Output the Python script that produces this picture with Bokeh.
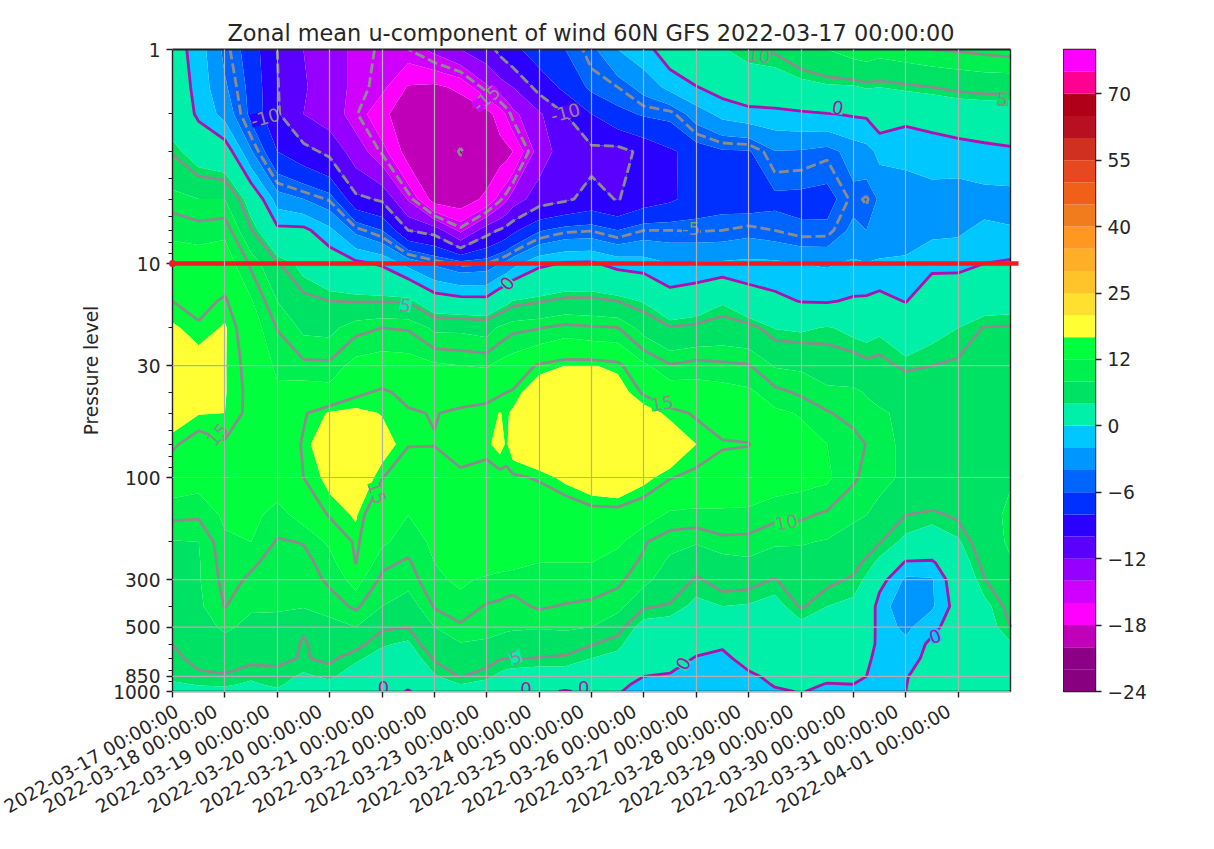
import math
from datetime import datetime, timedelta
import numpy as np
from bokeh.embed import file_html
from bokeh.layouts import row
from bokeh.models import ColumnDataSource, FixedTicker, LinearAxis, Range1d
from bokeh.plotting import figure
from bokeh.resources import INLINE
from bokeh.core.properties import value

TITLE = "Zonal mean u-component of wind 60N GFS 2022-03-17 00:00:00"
pressure_levels = [1, 1.5, 2, 3, 5, 7, 10, 15, 20, 30, 40, 50, 70, 100, 150, 200, 250, 300, 400, 500, 600, 700, 850, 925, 1000]
days = [0, .5, 1, 1.5, 2, 2.5, 3, 3.5, 4, 4.5, 5, 5.5, 6, 6.25, 6.375, 6.5, 7, 7.5, 8, 8.5, 9, 9.5, 10, 10.5, 11, 11.5, 12, 12.5, 13, 13.25, 13.5, 14, 14.5, 15, 15.5, 16]

d00_0 = [1.2,1.8,2.5,4.8,9,11.5,13.3,15,16.3,18,18,17,15.3,13.5,10.5,7.8,7.4,7,6.5,5.7,5,4.6,4.3,3.8,3.5]
d00_5 = [-1,-0.8,-0.5,2.5,8,11,13.5,14.3,15.3,17,17,16.1,14,13,10.3,8,7.8,7.8,7.5,6.8,6,5.5,4.7,4.1,3.5]
d01_0 = [-4.5,-3.7,-2.7,1.5,8,11.5,13.5,15.3,16.2,16.1,16.1,16,14.8,13.5,12.5,11.5,11,10.7,10.1,8.5,7,6,4.8,4.2,3.5]
d01_5 = [-7,-6.6,-6.5,-3.8,2.5,5.2,9.6,12.3,13.5,14.3,14.5,14.5,14,13.5,12.8,12,10.3,9.7,8.3,7.3,6.3,5.4,4.2,3.8,3.3]
d02_0 = [-10,-9.9,-9.8,-8,-3,0.6,5.2,8,9.9,11.5,12.5,13,13.3,13.5,11,9.8,9.3,9,8.2,7.4,6.3,5.3,4.6,4.3,3.7]
d02_5 = [-12,-11.8,-12,-9.3,-4,0.6,3.3,5.6,7.5,10.6,13.3,14.8,15.2,15,13,10.1,9.3,9,8.2,5.2,4.8,4.9,3.7,3.2,3]
d03_0 = [-13,-13,-13,-10.5,-5.2,-1.5,1.8,5,7.3,10.5,13,16.2,18,16.5,15.2,12.5,11,10.4,9,7,6,5.3,4.3,3.5,3]
d03_5 = [-14.5,-14.5,-14.8,-13,-9.5,-4.5,0.5,4.9,9.3,13,14.6,16.5,18.3,18,16.2,15.4,15.1,13,10.4,8,5.5,4.3,3,2.5,2.2]
d04_0 = [-15.2,-15.5,-17.6,-15.2,-10.3,-6,-0.3,4.9,10,13.5,15.3,15.9,17,15.1,12.5,12.5,10.5,9.5,8,5.2,4.2,3.3,2.5,2.2,2]
d04_5 = [-15,-18.2,-19,-19,-14.2,-10,-2.7,4.8,9.8,13.3,14.5,15.2,15.1,13.5,12,10.8,9.7,9,6.5,5,3.7,2.8,2,1,-0.3]
d05_0 = [-13.5,-18.5,-19.3,-19.5,-19,-10.8,-4.3,1.5,7.5,12.5,13.5,14.9,15.1,13,12.2,12.5,12,11.5,10.2,8,6.5,5.2,3.8,3,2.5]
d05_5 = [-12,-17.5,-19.6,-20.05,-19.3,-14.5,-5.3,0.9,7.5,12,14,15.4,15.4,14.8,13,13,13,12.5,11,9.7,7.8,6.3,5.1,4,3]
d06_0 = [-10.8,-14.3,-18.8,-19.5,-17.5,-10.8,-5,0.8,7,11.8,14.4,15.6,15.7,14,13,13.3,13.6,11.5,9.8,9,7.5,5.7,4.3,3.5,3]
d06_25 = [-9.5,-13,-17,-19,-15.3,-9.8,-4,2.5,8.5,12.8,14.8,16.05,16.6,14.4,13,13.2,13.3,10.9,9.7,8.6,7.1,5.1,3.6,2.7,2.2]
d06_375 = [-9,-12.5,-15.8,-18.7,-14.3,-9.2,-3.5,3.2,9,13.2,15,15.8,15.8,14.5,13,13.1,13.1,10.8,9.5,8.4,6.9,5,3.3,2.3,1.9]
d06_5 = [-8.5,-12,-14.5,-18,-13,-8.5,-2.7,4.1,9.5,13.5,15.2,16.3,17,14.7,13,13,12.9,10.7,9.4,8.3,6.8,5.1,3,2,1.5]
d07_0 = [-7,-9.3,-12.3,-13,-11,-6.2,-0.5,4.8,9.9,15.3,17.5,19,18.5,15.2,13,12.5,12,11,10.3,8.2,6.2,4.9,2.8,1,0.6]
d07_5 = [-6,-7.5,-10,-11,-10.3,-5.3,0.2,5.6,10.8,16,19,19.5,19.5,16.5,13,12.3,12,11.5,9.8,8.5,6,4.7,3,1,-0.2]
d08_0 = [-4.5,-5.6,-8,-10.5,-9.4,-5.1,0.3,5.6,10.3,16.1,19,19.5,19.7,17.5,14,12.5,12,11,9.6,8,5.1,4,2.2,1,0.6]
d08_5 = [-2,-5,-6.5,-10.7,-10.1,-6,-0.8,5,10.1,15.6,17,19.3,19.5,18,14,12.5,10.8,10.4,9,5.6,4.4,3.5,2,0.7,0.2]
d09_0 = [-0.8,-3.3,-5.8,-9.5,-9,-5,-1.1,3.8,7,12.5,14.7,17,19,16.6,13.2,10.2,9.7,8.9,5.2,3.2,2.5,1.8,0,-0.7,-1]
d09_5 = [1.3,-1.4,-5.5,-8.3,-8.3,-5,-2,1.4,5.2,10.2,13.7,15.5,18,15.1,11.5,8.7,7.5,6.3,4.8,3,2,1.2,-0.3,-1,-1.2]
d10_0 = [2.6,-0.1,-3,-7.2,-7.3,-5.1,-1.8,2.1,5.6,10.9,13.2,14.8,16,14.5,11.3,8.3,5.5,4.8,3.5,2.6,1,-0.2,-1,-1.2,-1.2]
d10_5 = [3.8,0.9,-1.4,-6.3,-6.8,-5,-1.7,3.7,6.2,10.5,13,14,15.2,13.8,11.5,9.4,6.9,5.7,4,2.8,0.3,-0.5,-1.2,-1.3,-1.4]
d11_0 = [5,1.8,-0.8,-6.2,-7,-4.6,-1.5,1.5,5.8,10.2,12.5,13.5,15.1,13.2,11.6,9.2,7.5,5.6,3.8,2.7,1.8,0.8,-0.4,-1,-1.2]
d11_5 = [5.3,2.2,-0.7,-4.1,-6.5,-5,-1.6,0.7,3.9,7.8,10.7,12.5,13.3,13.3,10.5,8.5,6,4.9,3.2,2,1.2,0.5,0.5,0.2,-0.3]
d12_0 = [6.8,3,-0.4,-4.2,-6.6,-5.6,-2,-0.1,3.6,7.6,9.6,11.8,13,12.8,10.4,8.2,7,6.2,5.2,3.3,2.5,1.7,0.7,0.3,0.1]
d12_5 = [8,3.6,-0.1,-4.7,-6.8,-5.5,-2.2,-0.2,4.2,6.3,8.7,10.2,12,12.4,9.6,7.8,6.8,5.4,4,3.3,2.7,2,0.3,-0.05,-0.5]
d13_0 = [9.2,3.7,0.2,-3.2,-4.6,-3.5,-1.7,0.3,3.4,6.1,8.5,9.2,11,10.3,8.5,6.6,5.5,4.8,3.5,2.9,2.2,1.4,0.5,0,-0.5]
d13_25 = [9.5,4.2,0.3,-2.7,-5.2,-4,-1.9,0.4,3.2,5.5,7.8,8.8,9.9,9.5,8,5.8,4.7,3.7,2.6,1.8,1.3,0.5,0,-0.4,-0.7]
d13_5 = [9,4,1.3,-1.5,-3.7,-3.4,-1.7,0.8,3.6,5.7,7.3,8.3,8.6,8.8,7,5.1,3.5,1,-1.3,-0.9,-0.7,-0.8,-1,-1,-1.1]
d14_0 = [9.5,4.5,0.6,-1.5,-3,-3,-1.6,-0.1,2.4,4.6,6.6,7.5,7.6,7.5,5,3.5,-0.3,-2.4,-3,-2.5,-1.5,-1,-0.2,-0.1,0]
d14_5 = [10,5,0.8,-1,-2.9,-2.5,-0.5,1.7,3.4,5,6.6,7,7.1,7.2,4.6,2.7,-0.4,-2.2,-2.3,-0.6,0.5,0.8,1.7,2,2.2]
d15_0 = [10.2,5.6,1.5,-1,-3,-2.3,-0.6,2.2,4,5.3,6.2,6.7,6.7,6.8,5.3,3.7,2.6,1.9,1.1,1.3,1.8,2.2,2.7,2.8,3]
d15_5 = [10.5,6,1.6,-0.6,-2.8,-1.5,0,2.8,5.1,6.3,6.8,7,7,7.3,7,6.3,5.6,4.9,3.4,3,3,3.2,3.3,3.3,3.3]
d16_0 = [10.8,6,1.5,-0.3,-2.8,-1.8,0.3,3,5.2,6.5,7,7.3,7.3,7.8,8.5,8.5,7.7,7.3,5.6,5,3.8,3.5,3,1.2,-0.1]

columns = [d00_0,d00_5,d01_0,d01_5,d02_0,d02_5,d03_0,d03_5,d04_0,d04_5,d05_0,d05_5,d06_0,d06_25,d06_375,d06_5,d07_0,d07_5,d08_0,d08_5,d09_0,d09_5,d10_0,d10_5,d11_0,d11_5,d12_0,d12_5,d13_0,d13_25,d13_5,d14_0,d14_5,d15_0,d15_5,d16_0]

levels = [-24,-22,-20,-18,-16,-14,-12,-10,-8,-6,-4,-2,0,4,8,12,16,20,25,30,35,40,45,50,55,60,65,70,75,80]
level_colors = ["#88007f","#8c0088","#c000b8","#ff00ff","#d000ff","#9600ff","#5a00ff","#2a00ff","#0030ff","#0064ff","#0096ff","#00c8ff",
                "#00f0aa","#00e264","#00f050","#00ff3c","#ffff33","#ffdf30","#ffc42a","#ffae28","#ff9820","#f07c1e","#f06018","#e84820",
                "#d03020","#b81020","#b00018","#ff0090","#ff00ff"]
dashed_levels = [-20, -15, -10, -5]
zero_level = [0]
solid_levels = [5, 10, 15]
colorbar_tick_values = [-24,-18,-12,-6,0,12,25,40,55,70]
y_tick_values = [1, 10, 30, 100, 300, 500, 850, 1000]
y_minor_values = [2,3,4,5,6,7,8,9,20,40,50,60,70,80,90,200,400,600,700,800,900]
highlight_pressure = 10
tick_days = list(range(16))

label_text = ["-10","-15","-10","-5","5","10","0","0","5","15","15","15","10","5","0","0","0","0","0"]
label_day  = [1.77,5.99,7.5,9.9,15.85,11.2,12.7,6.39,4.45,0.86,3.91,9.35,11.72,6.55,9.75,14.56,4.03,6.75,7.85]
label_pres = [2.08,1.69,1.97,6.87,1.71,1.07,1.87,12.4,15.7,63,118,45,162,693,740,553,955,965,955]
label_deg  = [15,40,15,0,-5,-5,-10,50,-10,50,-70,10,10,20,60,20,0,0,0]
label_col  = ["#8c8c8c"]*6 + ["#b010b0","#b010b0"] + ["#8c8c8c"]*6 + ["#b010b0"]*5
label_bg   = ["#2a00ff","#d000ff","#5a00ff","#0064ff","#00e264","#00e264","#00f0aa","#00f0aa","#00f0aa","#00ff3c","#00ff3c","#00ff3c","#00ff3c","#00f0aa","#00f0aa","#00c8ff","#00f0aa","#00f0aa","#00f0aa"]

t0 = datetime(2022, 3, 17)
MS_DAY = 86400000.0
t0_ms = (t0 - datetime(1970, 1, 1)).total_seconds() * 1000.0
def to_ms(d):
    return t0_ms + d * MS_DAY

x_ms = [to_ms(d) for d in days]
z = np.array(columns, dtype=float).T

FONT = "DejaVu Sans"
TEXT = "#262626"
TICK_PX = "18.6px"
END_DAY = 16.0
PX_PER_DAY = 52.375
RIGHT_PAD_PX = 8
END_VIEW = END_DAY + RIGHT_PAD_PX / PX_PER_DAY
LABEL_SHIFT = 9 / PX_PER_DAY

p = figure(
    frame_width=838 + RIGHT_PAD_PX, frame_height=642, min_border_left=172, min_border_right=45,
    min_border_top=49, min_border_bottom=158,
    x_axis_type="datetime", y_axis_type="log",
    x_range=Range1d(to_ms(0), to_ms(END_VIEW)), y_range=Range1d(1000, 1),
    extra_x_ranges={"labels": Range1d(to_ms(LABEL_SHIFT), to_ms(END_VIEW + LABEL_SHIFT))},
    toolbar_location=None, output_backend="svg", title=TITLE,
)
p.title.align = "left"
p.title.offset = 55
p.title.text_font = FONT
p.title.text_font_size = "22.4px"
p.title.text_font_style = "normal"
p.title.text_color = TEXT
p.title.standoff = 7

p.contour(x_ms, pressure_levels, z, levels, fill_color=level_colors, line_color=None)
p.contour(x_ms, pressure_levels, z, dashed_levels, line_color="#8c8c8c", line_width=2.8, line_dash="10 4")
p.contour(x_ms, pressure_levels, z, solid_levels, line_color="#8c8c8c", line_width=2.8)
p.contour(x_ms, pressure_levels, z, zero_level, line_color="#b010b0", line_width=2.8)

labels = ColumnDataSource(dict(
    x=[to_ms(d) for d in label_day], y=label_pres, text=label_text,
    angle=[math.radians(a) for a in label_deg], color=label_col, bg=label_bg))
p.text(x="x", y="y", text="text", angle="angle", text_color="color", source=labels,
       text_font=value(FONT), text_font_size="18px", text_align="center", text_baseline="middle",
       background_fill_color="bg")

p.xaxis.ticker = FixedTicker(ticks=[to_ms(d) for d in tick_days])
p.xaxis.major_label_overrides = {to_ms(d): "" for d in tick_days}
p.xaxis.bounds = (to_ms(0), to_ms(END_DAY))

p.yaxis.ticker = FixedTicker(ticks=y_tick_values, minor_ticks=y_minor_values)
p.yaxis.major_label_overrides = {v: str(v) for v in y_tick_values}
p.yaxis.axis_label = "Pressure level"
p.yaxis.axis_label_text_font = FONT
p.yaxis.axis_label_text_font_size = TICK_PX
p.yaxis.axis_label_text_font_style = "normal"
p.yaxis.axis_label_text_color = TEXT
p.yaxis.axis_label_standoff = 8

for ax in (p.xaxis, p.yaxis):
    ax.major_label_text_font = FONT
    ax.major_label_text_font_size = TICK_PX
    ax.major_label_text_color = TEXT
    ax.axis_line_color = "#222222"
    ax.axis_line_width = 1.4
    ax.major_tick_line_color = "#222222"
    ax.major_tick_line_width = 1.4
    ax.major_tick_out = 6
    ax.major_tick_in = 0
    ax.major_label_standoff = 6
p.yaxis.minor_tick_line_color = "#222222"
p.yaxis.minor_tick_out = 4
p.yaxis.minor_tick_in = 0
p.xaxis.minor_tick_line_color = None
p.xaxis.major_label_standoff = 0
p.xaxis.major_label_text_font_size = "1px"

label_ticks = [to_ms(LABEL_SHIFT)] + [to_ms(d) for d in tick_days[1:]]
label_overrides = {tick: (t0 + timedelta(days=d)).strftime("%Y-%m-%d %H:%M:%S") for tick, d in zip(label_ticks, tick_days)}
label_axis = LinearAxis(
    x_range_name="labels",
    ticker=FixedTicker(ticks=label_ticks),
    major_label_overrides=label_overrides,
    major_label_orientation=math.radians(30),
    major_label_text_font=FONT, major_label_text_font_size=TICK_PX, major_label_text_color=TEXT,
    major_label_standoff=6, axis_line_color=None, major_tick_line_color=None, minor_tick_line_color=None,
)
p.add_layout(label_axis, "below")

p.xgrid.ticker = FixedTicker(ticks=[to_ms(d) for d in tick_days])
p.xgrid.grid_line_color = "#b0b0b0"
p.xgrid.grid_line_width = 1.2
p.xgrid.level = "annotation"
p.ygrid.visible = False
p.segment(x0=[to_ms(0)] * len(y_tick_values), x1=[to_ms(END_DAY)] * len(y_tick_values),
          y0=y_tick_values, y1=y_tick_values, line_color="#b0b0b0", line_width=1.2, level="annotation")
p.outline_line_color = None

p.line([to_ms(0), to_ms(END_DAY)], [1, 1], line_color="#222222", line_width=2.2, level="annotation")
p.line([to_ms(END_DAY), to_ms(END_DAY)], [1, 1000], line_color="#222222", line_width=1.4, level="annotation")
p.line([to_ms(0), to_ms(END_VIEW)], [highlight_pressure, highlight_pressure],
       line_color="#f01c24", line_width=4.5, level="annotation")
p.scatter([to_ms(0)], [highlight_pressure], size=7, fill_color="#f01c24", line_color=None, level="annotation")

cb = figure(
    frame_width=32, frame_height=642, min_border_left=0, min_border_right=85,
    min_border_top=49, min_border_bottom=158, y_axis_location="right",
    x_range=Range1d(0, 1), y_range=Range1d(0, len(level_colors)),
    toolbar_location=None, output_backend="svg",
)
idx = list(range(len(level_colors)))
cb.quad(left=0, right=1, bottom=idx, top=[i + 1 for i in idx], fill_color=level_colors, line_color=None)
cb.xaxis.visible = False
cb.xgrid.visible = False
cb.ygrid.visible = False
cb.yaxis.ticker = FixedTicker(ticks=[levels.index(v) for v in colorbar_tick_values])
cb.yaxis.major_label_overrides = {levels.index(v): str(v).replace("-", "\u2212") for v in colorbar_tick_values}
cb.yaxis.major_label_text_font = FONT
cb.yaxis.major_label_text_font_size = TICK_PX
cb.yaxis.major_label_text_color = TEXT
cb.yaxis.major_tick_out = 6
cb.yaxis.major_tick_in = 0
cb.yaxis.minor_tick_line_color = None
cb.yaxis.major_tick_line_color = "#222222"
cb.yaxis.major_tick_line_width = 1.4
cb.yaxis.axis_line_color = None
cb.yaxis.major_label_standoff = 6
cb.outline_line_color = "#222222"
cb.outline_line_width = 1.4

layout = row(p, cb, spacing=0)
open("out.html", "w").write(file_html(layout, INLINE))
